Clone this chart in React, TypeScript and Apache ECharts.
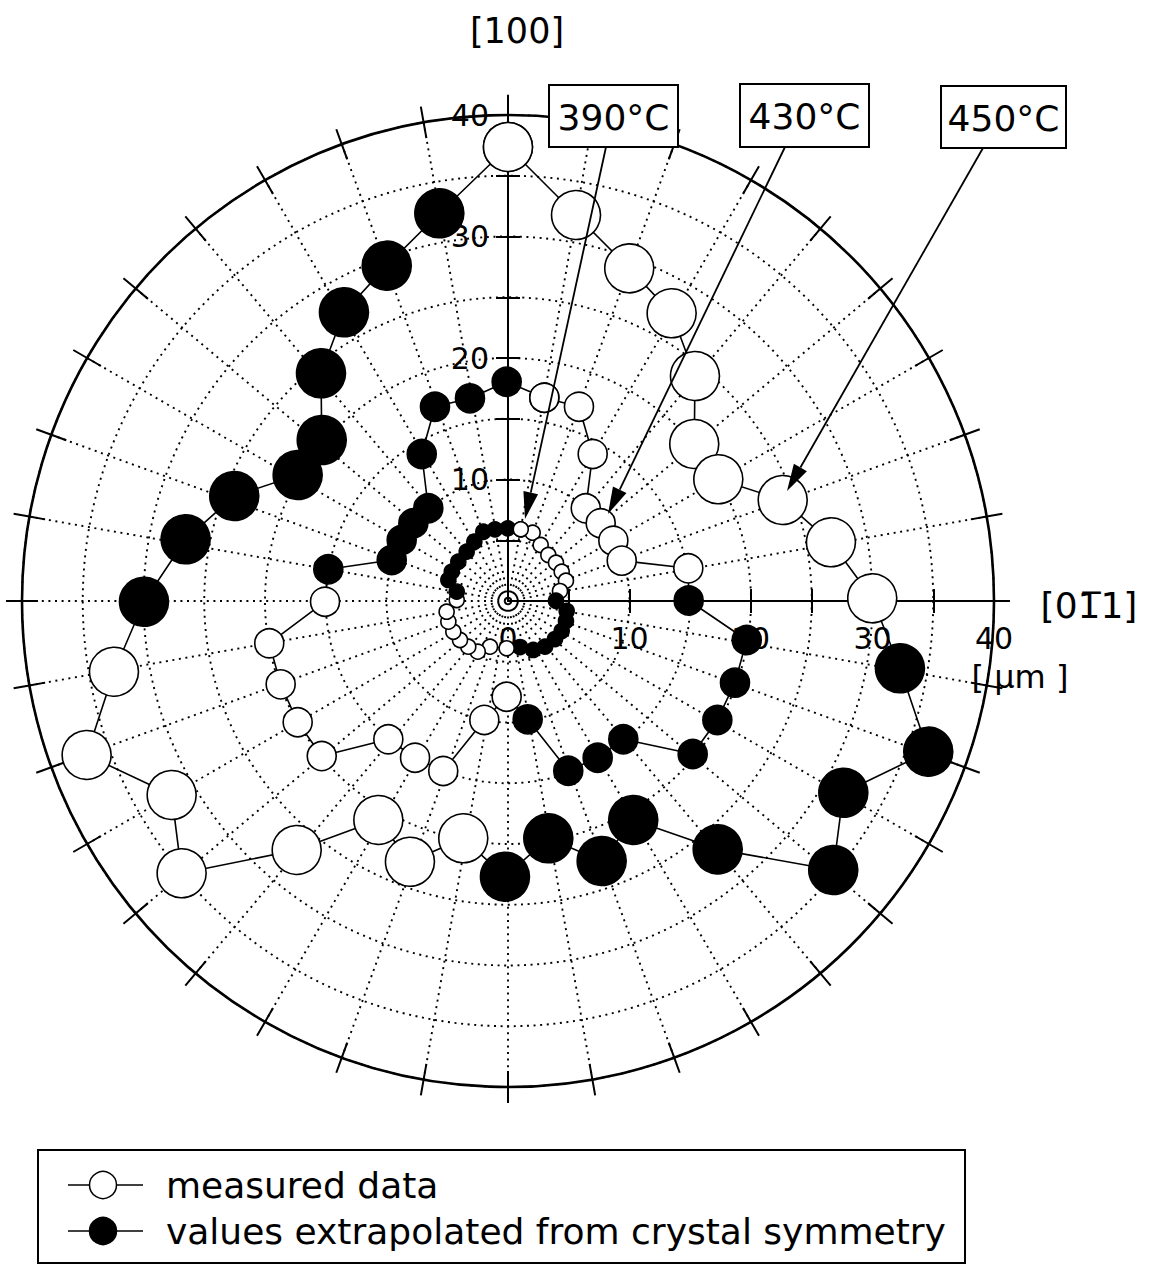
import React, { useEffect, useRef } from 'react';
import * as echarts from 'echarts';

type Pt = [number, number];

// ---- data (µm, x = [0-11] direction, y = [100] direction) ----
// 450 °C
const t450MeasuredNE: Pt[] = [[0.0, 37.37], [5.6, 31.77], [9.98, 27.38], [13.47, 23.68], [15.39, 18.52], [15.33, 12.92], [17.31, 10.02], [22.61, 8.31], [26.58, 4.83], [29.98, 0.22]];
const t450ExtrapSE: Pt[] = [[32.26, -5.54], [34.59, -12.4], [27.6, -15.78], [26.77, -22.14], [17.26, -20.44], [10.31, -18.02], [7.71, -21.4], [3.32, -19.53], [-0.25, -22.69]];
const t450MeasuredSW: Pt[] = [[-3.68, -19.53], [-8.07, -21.46], [-10.67, -18.02], [-17.39, -20.49], [-26.86, -22.41], [-27.68, -15.97], [-34.68, -12.67], [-32.43, -5.82]];
const t450ExtrapNW: Pt[] = [[-29.96, -0.06], [-26.53, 5.08], [-22.53, 8.64], [-17.31, 10.37], [-15.33, 13.25], [-15.39, 18.74], [-13.5, 23.76], [-9.98, 27.6], [-5.65, 31.91]];

// 430 °C
const t430MeasuredNE: Pt[] = [[2.99, 16.73], [5.84, 15.99], [6.97, 12.1], [6.4, 7.63], [7.63, 6.4], [8.67, 4.96], [9.36, 3.32], [14.84, 2.69]];
const t430ExtrapSE: Pt[] = [[14.87, 0.04], [19.65, -3.21], [18.68, -6.72], [17.23, -9.79], [15.2, -12.59], [9.49, -11.38], [7.38, -12.9], [4.96, -13.97], [1.62, -9.74]];
const t430MeasuredSW: Pt[] = [[-0.11, -7.88], [-1.95, -9.79], [-5.33, -13.99], [-7.65, -12.9], [-9.85, -11.38], [-15.33, -12.76], [-17.31, -9.98], [-18.71, -6.86], [-19.65, -3.48], [-15.06, -0.06]];
const t430ExtrapNW: Pt[] = [[-14.79, 2.61], [-9.57, 3.37], [-8.75, 5.02], [-7.79, 6.4], [-6.56, 7.63], [-7.1, 12.1], [-6.01, 15.99], [-3.13, 16.68], [-0.11, 18.05]];

// 390 °C
const t390MeasuredNE: Pt[] = [[1.05, 5.9], [2.03, 5.62], [2.69, 4.61], [3.32, 3.79], [3.95, 3.15], [4.42, 2.41], [4.77, 1.67], [4.28, 0.82]];
const t390ExtrapSE: Pt[] = [[3.95, 0.02], [4.83, -0.82], [4.77, -1.65], [4.42, -2.47], [3.87, -3.13], [3.05, -3.76], [2.08, -4.03], [0.99, -3.79]];
const t390MeasuredSW: Pt[] = [[-0.11, -3.89], [-1.48, -3.76], [-2.49, -4.17], [-3.27, -3.76], [-3.95, -3.21], [-4.5, -2.53], [-4.91, -1.7], [-5.05, -0.88], [-4.22, 0.08]];
const t390ExtrapNW: Pt[] = [[-4.22, 0.77], [-4.91, 1.73], [-4.63, 2.41], [-4.09, 3.23], [-3.4, 4.06], [-2.77, 4.88], [-2.03, 5.7], [-1.07, 5.9], [-0.02, 5.98]];

const temperatureLabels = ['390°C', '430°C', '450°C'];
const axisTickValues = [5, 10, 15, 20, 25, 30, 35, 40];
const xTickLabels = [0, 10, 20, 30, 40];
const yTickLabels = [10, 20, 30, 40];
const legendLabels = ['measured data', 'values extrapolated from crystal symmetry'];

const FONT = 'DejaVu Sans';

// ---- layout (px) ----
const CX = 508;
const CY = 601;
const R = 486; // 40 µm
const PX = R / 40;

function loopItems(segs: { pts: Pt[]; filled: boolean }[]) {
  const items: any[] = [];
  segs.forEach((s) =>
    s.pts.forEach((p) =>
      items.push({ value: p, itemStyle: { color: s.filled ? '#000' : '#fff' } })
    )
  );
  items.push(items[0]);
  return items;
}

function arrow(tail: Pt, tip: Pt) {
  const dx = tip[0] - tail[0];
  const dy = tip[1] - tail[1];
  const L = Math.hypot(dx, dy);
  const ux = dx / L;
  const uy = dy / L;
  const len = 27;
  const hw = 7.5;
  const bx = tip[0] - ux * len;
  const by = tip[1] - uy * len;
  return [
    { type: 'line', z: 100, shape: { x1: tail[0], y1: tail[1], x2: bx, y2: by }, style: { stroke: '#000', lineWidth: 1.8 } },
    {
      type: 'polygon', z: 100,
      shape: { points: [[tip[0], tip[1]], [bx - uy * hw, by + ux * hw], [bx + uy * hw, by - ux * hw]] },
      style: { fill: '#000' },
    },
  ];
}

function tempBox(label: string, x: number, y: number, w: number, h: number) {
  return [
    { type: 'rect', z: 100, shape: { x, y, width: w, height: h }, style: { fill: '#fff', stroke: '#000', lineWidth: 2 } },
    {
      type: 'text', z: 101, x: x + w / 2, y: y + h / 2 + 1,
      style: { text: label, fill: '#000', font: `36px "${FONT}"`, textAlign: 'center', textVerticalAlign: 'middle' },
    },
  ];
}

export default function App() {
  const ref = useRef<HTMLDivElement>(null);

  useEffect(() => {
    document.body.style.margin = '0';
    const chart = echarts.init(ref.current!, null, { renderer: 'svg' });

    const dotted = { color: '#000', width: 1.9, type: [2, 4.6] as any };
    const tickStyle = { color: '#000', width: 2 };
    const axisGrid = { left: CX, top: CY - 41.6 * PX, width: 41.07 * PX, height: 41.6 * PX };

    const seriesDefs = [
      { name: '450', size: 49, segs: [
        { pts: t450MeasuredNE, filled: false }, { pts: t450ExtrapSE, filled: true },
        { pts: t450MeasuredSW, filled: false }, { pts: t450ExtrapNW, filled: true }] },
      { name: '430', size: 29, segs: [
        { pts: t430MeasuredNE, filled: false }, { pts: t430ExtrapSE, filled: true },
        { pts: t430MeasuredSW, filled: false }, { pts: t430ExtrapNW, filled: true }] },
      { name: '390', size: 15, segs: [
        { pts: t390MeasuredNE, filled: false }, { pts: t390ExtrapSE, filled: true },
        { pts: t390MeasuredSW, filled: false }, { pts: t390ExtrapNW, filled: true }] },
    ];

    const graphics: any[] = [];
    graphics.push(...tempBox(temperatureLabels[0], 549, 85, 129, 62));
    graphics.push(...tempBox(temperatureLabels[1], 740, 84, 129, 63));
    graphics.push(...tempBox(temperatureLabels[2], 941, 86, 125, 62));
    graphics.push(...arrow([606, 147], [525, 519]));
    graphics.push(...arrow([785, 147], [608, 514]));
    graphics.push(...arrow([983, 148], [787, 491]));
    graphics.push({
      type: 'text', z: 100, x: 517, y: 31,
      style: { text: '[100]', fill: '#000', font: `35px "${FONT}"`, textAlign: 'center', textVerticalAlign: 'middle' },
    });
    graphics.push({
      type: 'text', z: 100, x: 1089, y: 605,
      style: { text: '[01\u03051]', fill: '#000', font: `36px "${FONT}"`, textAlign: 'center', textVerticalAlign: 'middle' },
    });
    graphics.push({
      type: 'text', z: 100, x: 1020, y: 677,
      style: { text: '[ \u03bcm ]', fill: '#000', font: `32px "${FONT}"`, textAlign: 'center', textVerticalAlign: 'middle' },
    });
    // legend
    graphics.push({ type: 'rect', z: 100, shape: { x: 38, y: 1150, width: 927, height: 113 }, style: { fill: 'none', stroke: '#000', lineWidth: 2 } });
    [1185, 1231].forEach((ly, i) => {
      graphics.push({ type: 'line', z: 100, shape: { x1: 68, y1: ly, x2: 143, y2: ly }, style: { stroke: '#000', lineWidth: 1.5 } });
      graphics.push({ type: 'circle', z: 101, shape: { cx: 103, cy: ly, r: 13.5 }, style: { fill: i === 0 ? '#fff' : '#000', stroke: '#000', lineWidth: 1.5 } });
      graphics.push({
        type: 'text', z: 100, x: 166, y: ly,
        style: { text: legendLabels[i], fill: '#000', font: `36px "${FONT}"`, textAlign: 'left', textVerticalAlign: 'middle' },
      });
    });

    const option: any = {
      animation: false,
      backgroundColor: '#fff',
      polar: [
        { center: [CX, CY], radius: R },
        { center: [CX, CY], radius: R },
      ],
      angleAxis: [
        {
          polarIndex: 0, type: 'value', min: 0, max: 360, interval: 10, startAngle: 90, clockwise: true,
          axisLine: { show: true, lineStyle: { color: '#000', width: 2.6 } },
          axisTick: { show: true, length: 16, lineStyle: tickStyle },
          axisLabel: { show: false },
          splitLine: { show: true, lineStyle: dotted },
        },
        {
          polarIndex: 1, type: 'value', min: 0, max: 360, interval: 10, startAngle: 90, clockwise: true,
          axisLine: { show: false },
          axisTick: { show: true, inside: true, length: 16, lineStyle: tickStyle },
          axisLabel: { show: false },
          splitLine: { show: false },
        },
      ],
      radiusAxis: [
        {
          polarIndex: 0, type: 'value', min: 0, max: 40, interval: 5,
          axisLine: { show: false }, axisTick: { show: false }, axisLabel: { show: false },
          splitLine: { show: true, lineStyle: dotted },
        },
        {
          polarIndex: 1, type: 'value', min: 0, max: 40, interval: 5,
          axisLine: { show: false }, axisTick: { show: false }, axisLabel: { show: false },
          splitLine: { show: false },
        },
      ],
      grid: [
        { left: CX - R, top: CY - R, width: 2 * R, height: 2 * R },
        axisGrid,
        axisGrid,
      ],
      xAxis: [
        { gridIndex: 0, type: 'value', min: -40, max: 40, show: false },
        {
          gridIndex: 1, type: 'value', min: 0, max: 41.07,
          axisLine: { show: true, onZero: false, lineStyle: { color: '#000', width: 2 } },
          axisTick: { show: true, length: 12, customValues: axisTickValues, lineStyle: tickStyle },
          axisLabel: { show: true, customValues: xTickLabels, color: '#000', fontFamily: FONT, fontSize: 30, margin: 22 },
          splitLine: { show: false },
        },
        {
          gridIndex: 2, type: 'value', min: 0, max: 41.07,
          axisLine: { show: false },
          axisTick: { show: true, inside: true, length: 12, customValues: axisTickValues, lineStyle: tickStyle },
          axisLabel: { show: false },
          splitLine: { show: false },
        },
      ],
      yAxis: [
        { gridIndex: 0, type: 'value', min: -40, max: 40, show: false },
        {
          gridIndex: 1, type: 'value', min: 0, max: 41.6,
          axisLine: { show: true, onZero: false, lineStyle: { color: '#000', width: 2 } },
          axisTick: { show: true, length: 12, customValues: axisTickValues, lineStyle: tickStyle },
          axisLabel: { show: true, customValues: yTickLabels, color: '#000', fontFamily: FONT, fontSize: 30, margin: 19 },
          splitLine: { show: false },
        },
        {
          gridIndex: 2, type: 'value', min: 0, max: 41.6,
          axisLine: { show: false },
          axisTick: { show: true, inside: true, length: 12, customValues: axisTickValues, lineStyle: tickStyle },
          axisLabel: { show: false },
          splitLine: { show: false },
        },
      ],
      series: seriesDefs.map((d) => ({
        type: 'line',
        name: d.name,
        xAxisIndex: 0,
        yAxisIndex: 0,
        data: loopItems(d.segs),
        symbol: 'circle',
        symbolSize: d.size,
        showSymbol: true,
        showAllSymbol: true,
        clip: false,
        z: 5,
        lineStyle: { color: '#000', width: 1.6 },
        itemStyle: { borderColor: '#000', borderWidth: 1.6 },
        emphasis: { disabled: true },
        silent: true,
      })),
      graphic: graphics,
    };

    chart.setOption(option);
    return () => chart.dispose();
  }, []);

  return (
    <div
      ref={ref}
      style={{ position: 'absolute', left: 0, top: 0, width: 1159, height: 1264, background: '#fff' }}
    />
  );
}
